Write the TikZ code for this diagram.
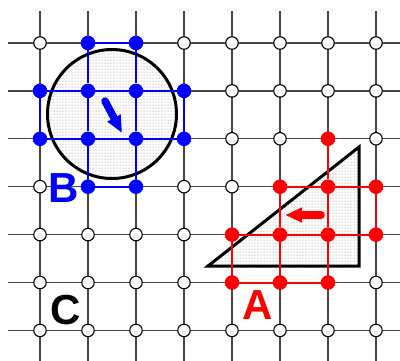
\documentclass[tikz,border=0pt]{standalone}
\usepackage{fontspec}
\setmainfont{Liberation Sans}
\usetikzlibrary{arrows.meta,patterns}
\begin{document}
\begin{tikzpicture}[x=1pt,y=-1pt,
  gridline/.style={draw=black!72, line width=1.3pt},
  opennode/.style={circle, draw=black, fill=white, line width=1.1pt, minimum size=12.5pt, inner sep=0pt},
  bdot/.style={circle, fill=blue, minimum size=14.5pt, inner sep=0pt},
  rdot/.style={circle, fill=red, minimum size=14.5pt, inner sep=0pt},
  bline/.style={draw=blue, line width=2pt},
  rline/.style={draw=red, line width=2pt},
  regionshape/.style={draw=black, line width=3pt, preaction={fill=white}, pattern=dots, pattern color=black!50},
  bigarrow/.style={line width=7.5pt, line cap=round, -{Triangle[width=14pt,length=17pt]}},
  lab/.style={font=\fontsize{42}{42}\selectfont\bfseries, inner sep=0pt}]
\useasboundingbox (0,0) rectangle (400,360);
\clip (0,0) rectangle (400,360);
% grid coordinates
\foreach \i in {0,...,7}{
  \foreach \j in {0,...,6}{
    \coordinate (p\i\j) at ({40+48*\i},{43+47.9*\j});
  }
}
% grid lines
\foreach \i in {0,...,7}{
  \coordinate (vt\i) at ({40+48*\i},11);
  \coordinate (vb\i) at ({40+48*\i},365);
  \draw[gridline] (vt\i) -- (vb\i);
}
\foreach \j in {0,...,6}{
  \coordinate (hl\j) at (8,{43+47.9*\j});
  \coordinate (hr\j) at (405,{43+47.9*\j});
  \draw[gridline] (hl\j) -- (hr\j);
}
% open nodes
\foreach \i in {0,...,7}{
  \foreach \j in {0,...,6}{
    \node[opennode] (o\i\j) at (p\i\j) {};
  }
}
% regions
\node[draw=none, circle, inner sep=0pt, minimum size=129pt, regionshape] (circ) at (112,114) {};
\coordinate (t1) at (208,266);
\coordinate (t2) at (359,147);
\coordinate (t3) at (359,266);
\draw[regionshape, line join=miter] (t1) -- (t2) -- (t3) -- cycle;
% blue dots
\foreach \i/\j in {1/0,2/0,0/1,1/1,2/1,3/1,0/2,1/2,2/2,3/2,1/3,2/3}{
  \node[bdot] (b\i\j) at (p\i\j) {};
}
% red dots
\foreach \i/\j in {6/2,5/3,6/3,7/3,4/4,5/4,6/4,7/4,4/5,5/5,6/5}{
  \node[rdot] (r\i\j) at (p\i\j) {};
}
% blue lines
\draw[bline] (b01) -- (b11) -- (b21) -- (b31);
\draw[bline] (b02) -- (b12) -- (b22) -- (b32);
\draw[bline] (b10) -- (b11) -- (b12) -- (b13);
\draw[bline] (b20) -- (b21) -- (b22) -- (b23);
\draw[bline] (b10) -- (b20);
\draw[bline] (b13) -- (b23);
\draw[bline] (b01) -- (b02);
\draw[bline] (b31) -- (b32);
% red lines
\draw[rline] (r62) -- (r63) -- (r64) -- (r65);
\draw[rline] (r53) -- (r63) -- (r73);
\draw[rline] (r44) -- (r54) -- (r64) -- (r74);
\draw[rline] (r45) -- (r55) -- (r65);
\draw[rline] (r44) -- (r45);
\draw[rline] (r53) -- (r54) -- (r55);
\draw[rline] (r73) -- (r74);
% arrows
\coordinate (ba1) at (105,101);
\coordinate (ba2) at (122,133);
\draw[bigarrow, blue] (ba1) -- (ba2);
\coordinate (ra1) at (321,215);
\coordinate (ra2) at (285,215);
\draw[bigarrow, red] (ra1) -- (ra2);
% labels
\node[lab, text=blue] (labB) at (64,188) {B};
\node[lab, text=black] (labC) at (66,310) {C};
\node[lab, text=red] (labA) at (258,305) {A};
\end{tikzpicture}
\end{document}
